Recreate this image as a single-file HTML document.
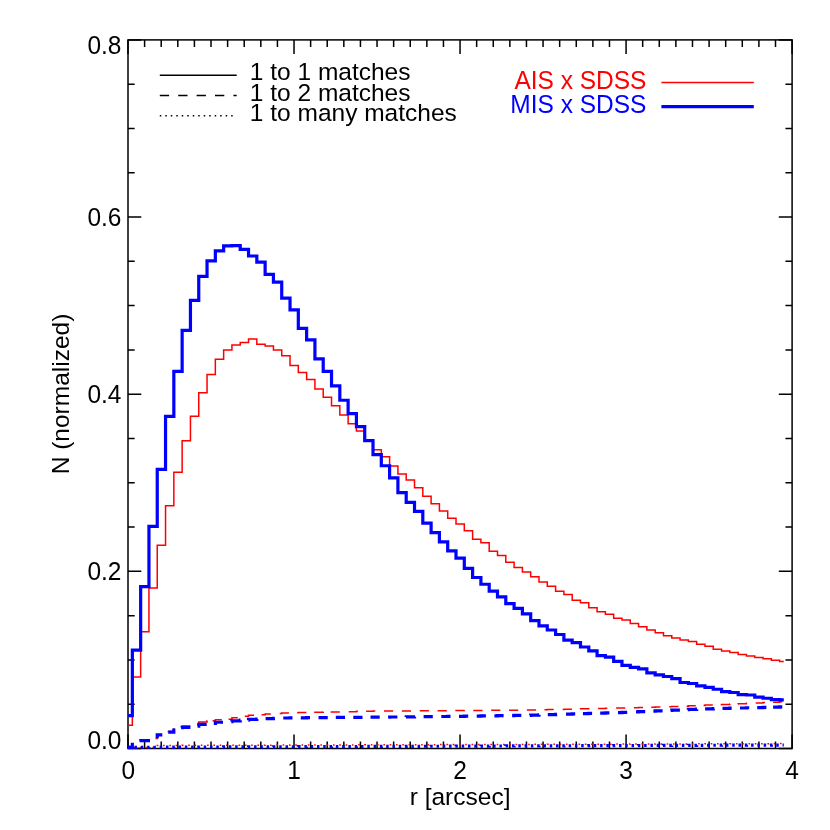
<!DOCTYPE html>
<html><head><meta charset="utf-8"><title>Chart</title>
<style>html,body{margin:0;padding:0;background:#fff;}body{width:830px;height:830px;position:relative;overflow:hidden;font-family:"Liberation Sans",sans-serif;}</style></head>
<body>
<svg width="830" height="830" viewBox="0 0 830 830" style="position:absolute;left:0;top:0;will-change:transform">
<rect x="0" y="0" width="830" height="830" fill="#fff"/>
<g stroke="#000" stroke-width="1.50" fill="none" stroke-linecap="butt" stroke-linejoin="miter">
<rect x="128.00" y="39.90" width="664.10" height="708.60"/>
<path d="M128.00 748.50 v-14.10 M128.00 39.90 v14.10 M144.60 748.50 v-7.05 M144.60 39.90 v7.05 M161.21 748.50 v-7.05 M161.21 39.90 v7.05 M177.81 748.50 v-7.05 M177.81 39.90 v7.05 M194.41 748.50 v-7.05 M194.41 39.90 v7.05 M211.01 748.50 v-7.05 M211.01 39.90 v7.05 M227.62 748.50 v-7.05 M227.62 39.90 v7.05 M244.22 748.50 v-7.05 M244.22 39.90 v7.05 M260.82 748.50 v-7.05 M260.82 39.90 v7.05 M277.42 748.50 v-7.05 M277.42 39.90 v7.05 M294.02 748.50 v-14.10 M294.02 39.90 v14.10 M310.63 748.50 v-7.05 M310.63 39.90 v7.05 M327.23 748.50 v-7.05 M327.23 39.90 v7.05 M343.83 748.50 v-7.05 M343.83 39.90 v7.05 M360.44 748.50 v-7.05 M360.44 39.90 v7.05 M377.04 748.50 v-7.05 M377.04 39.90 v7.05 M393.64 748.50 v-7.05 M393.64 39.90 v7.05 M410.24 748.50 v-7.05 M410.24 39.90 v7.05 M426.85 748.50 v-7.05 M426.85 39.90 v7.05 M443.45 748.50 v-7.05 M443.45 39.90 v7.05 M460.05 748.50 v-14.10 M460.05 39.90 v14.10 M476.65 748.50 v-7.05 M476.65 39.90 v7.05 M493.26 748.50 v-7.05 M493.26 39.90 v7.05 M509.86 748.50 v-7.05 M509.86 39.90 v7.05 M526.46 748.50 v-7.05 M526.46 39.90 v7.05 M543.06 748.50 v-7.05 M543.06 39.90 v7.05 M559.66 748.50 v-7.05 M559.66 39.90 v7.05 M576.27 748.50 v-7.05 M576.27 39.90 v7.05 M592.87 748.50 v-7.05 M592.87 39.90 v7.05 M609.47 748.50 v-7.05 M609.47 39.90 v7.05 M626.08 748.50 v-14.10 M626.08 39.90 v14.10 M642.68 748.50 v-7.05 M642.68 39.90 v7.05 M659.28 748.50 v-7.05 M659.28 39.90 v7.05 M675.88 748.50 v-7.05 M675.88 39.90 v7.05 M692.49 748.50 v-7.05 M692.49 39.90 v7.05 M709.09 748.50 v-7.05 M709.09 39.90 v7.05 M725.69 748.50 v-7.05 M725.69 39.90 v7.05 M742.29 748.50 v-7.05 M742.29 39.90 v7.05 M758.90 748.50 v-7.05 M758.90 39.90 v7.05 M775.50 748.50 v-7.05 M775.50 39.90 v7.05 M792.10 748.50 v-14.10 M792.10 39.90 v14.10 M128.00 748.50 h13.30 M792.10 748.50 h-13.30 M128.00 704.21 h6.65 M792.10 704.21 h-6.65 M128.00 659.92 h6.65 M792.10 659.92 h-6.65 M128.00 615.64 h6.65 M792.10 615.64 h-6.65 M128.00 571.35 h13.30 M792.10 571.35 h-13.30 M128.00 527.06 h6.65 M792.10 527.06 h-6.65 M128.00 482.77 h6.65 M792.10 482.77 h-6.65 M128.00 438.49 h6.65 M792.10 438.49 h-6.65 M128.00 394.20 h13.30 M792.10 394.20 h-13.30 M128.00 349.91 h6.65 M792.10 349.91 h-6.65 M128.00 305.62 h6.65 M792.10 305.62 h-6.65 M128.00 261.34 h6.65 M792.10 261.34 h-6.65 M128.00 217.05 h13.30 M792.10 217.05 h-13.30 M128.00 172.76 h6.65 M792.10 172.76 h-6.65 M128.00 128.48 h6.65 M792.10 128.48 h-6.65 M128.00 84.19 h6.65 M792.10 84.19 h-6.65 M128.00 39.90 h13.30 M792.10 39.90 h-13.30"/>
</g>
<g stroke="#000" stroke-width="1.5" fill="none">
<path d="M159.8 75.2 H236.7"/>
<path d="M159.8 95.6 H236.7" stroke-dasharray="9.3 9.1"/>
<path d="M159.8 115.8 H236.2" stroke-dasharray="1.5 3.99"/>
</g>
<path d="M661.4 82.6 H753.8" stroke="#f00" stroke-width="1.5"/>
<path d="M661.4 106.7 H753.8" stroke="#00f" stroke-width="3.2"/>
<g fill="none" stroke-linejoin="miter" stroke-linecap="butt">
<path d="M128.20 725.27 H132.35 V677.02 H140.65 V631.68 H148.95 V587.95 H157.25 V545.18 H165.54 V505.78 H173.84 V472.14 H182.14 V440.71 H190.44 V416.18 H198.74 V392.81 H207.04 V374.57 H215.34 V359.17 H223.64 V349.96 H231.93 V345.09 H240.23 V342.43 H248.53 V338.89 H256.83 V344.29 H265.13 V346.06 H273.43 V349.96 H281.73 V355.71 H290.03 V365.45 H298.32 V372.45 H306.62 V379.62 H314.92 V389.00 H323.22 V397.15 H331.52 V405.83 H339.82 V415.03 H348.12 V423.71 H356.42 V431.06 H364.71 V440.97 H373.01 V449.74 H381.31 V456.82 H389.61 V466.03 H397.91 V474.00 H406.21 V480.11 H414.51 V487.81 H422.81 V496.13 H431.10 V503.66 H439.40 V511.01 H447.70 V518.36 H456.00 V524.11 H464.30 V530.84 H472.60 V539.34 H480.90 V542.79 H489.20 V551.29 H497.49 V555.54 H505.79 V562.18 H514.09 V567.58 H522.39 V571.92 H530.69 V576.79 H538.99 V582.02 H547.29 V586.26 H555.59 V591.13 H563.88 V594.59 H572.18 V600.17 H580.48 V602.64 H588.78 V607.87 H597.08 V611.68 H605.38 V614.24 H613.68 V618.14 H621.98 V620.00 H630.27 V623.54 H638.57 V626.64 H646.87 V629.91 H655.17 V632.84 H663.47 V635.67 H671.77 V637.97 H680.07 V640.10 H688.37 V641.42 H696.66 V644.35 H704.96 V646.29 H713.26 V649.22 H721.56 V651.07 H729.86 V652.58 H738.16 V654.44 H746.46 V655.94 H754.76 V657.45 H763.05 V658.78 H771.35 V660.28 H779.65 V661.52 H783.80" stroke="#f00" stroke-width="1.5"/>
<path d="M128.2 747.76 H132.35 V743.5 M139.1 739.7 H147.8 M155.6 738.4 H157.25 V735.2 H161.5 M167.6 731.4 H173.8 V728.2 M181.20 728.01 H182.14 V725.89 H190.40 M198.10 723.41 H198.74 V722.08 H207.04 V720.75 H207.30 M212.60 720.75 H215.34 V719.87 H221.80 M228.60 719.16 H231.93 V717.73 H237.80 M244.80 716.30 H248.53 V715.21 H254.00 M261.60 714.64 H265.13 V714.08 H270.80 M279.70 713.51 H281.73 V713.01 H288.90 M297.20 712.79 H298.32 V712.56 H306.40 M314.20 712.34 H314.92 V712.14 H323.22 V712.01 H323.40 M330.60 712.01 H331.52 V711.89 H339.80 M348.70 711.63 H356.42 V711.19 H357.90 M366.10 711.14 H373.01 V711.09 H375.30 M383.97 711.04 H389.61 V710.98 H393.17 M401.83 710.93 H406.21 V710.88 H411.03 M419.70 710.83 H422.81 V710.78 H428.90 M437.57 710.73 H439.40 V710.67 H446.77 M455.43 710.62 H456.00 V710.57 H464.30 V710.51 H464.63 M473.30 710.45 H480.90 V710.38 H482.50 M491.17 710.32 H497.49 V710.26 H500.37 M509.03 710.19 H514.09 V710.13 H518.23 M526.90 710.07 H530.69 V709.93 H536.10 M544.50 709.75 H547.29 V709.56 H553.70 M562.70 709.38 H563.88 V709.20 H571.90 M580.30 709.01 H580.48 V708.83 H588.78 V708.65 H589.50 M598.10 708.46 H605.38 V708.28 H607.30 M616.10 708.10 H621.98 V707.92 H625.30 M633.90 707.66 H638.57 V707.41 H643.10 M651.20 707.16 H655.17 V706.90 H660.40 M669.20 706.65 H671.77 V706.40 H678.40 M686.60 706.14 H688.37 V705.86 H695.80 M703.60 705.49 H704.96 V705.12 H712.80 M720.70 704.75 H721.56 V704.38 H729.86 V704.02 H729.90 M737.90 704.02 H738.16 V703.65 H746.46 V703.28 H747.10 M755.70 702.91 H763.05 V702.54 H764.90 M773.10 702.17 H779.65 V701.81 H782.30" stroke="#f00" stroke-width="1.5"/>
<path d="M128.20 747.40 H132.35 V747.40 H140.65 V747.40 H148.95 V747.40 H157.25 V745.45 H165.54 V745.42 H173.84 V745.40 H182.14 V745.37 H190.44 V745.35 H198.74 V745.32 H207.04 V745.30 H215.34 V745.28 H223.64 V745.25 H231.93 V745.23 H240.23 V745.20 H248.53 V745.18 H256.83 V745.15 H265.13 V745.13 H273.43 V745.11 H281.73 V745.08 H290.03 V745.06 H298.32 V745.03 H306.62 V745.01 H314.92 V744.98 H323.22 V744.96 H331.52 V744.94 H339.82 V744.91 H348.12 V744.89 H356.42 V744.86 H364.71 V744.84 H373.01 V744.81 H381.31 V744.79 H389.61 V744.76 H397.91 V744.74 H406.21 V744.72 H414.51 V744.69 H422.81 V744.67 H431.10 V744.64 H439.40 V744.62 H447.70 V744.59 H456.00 V744.57 H464.30 V744.55 H472.60 V744.52 H480.90 V744.50 H489.20 V744.47 H497.49 V744.45 H505.79 V744.42 H514.09 V744.40 H522.39 V744.38 H530.69 V744.35 H538.99 V744.33 H547.29 V744.30 H555.59 V744.28 H563.88 V744.25 H572.18 V744.23 H580.48 V744.20 H588.78 V744.18 H597.08 V744.16 H605.38 V744.13 H613.68 V744.11 H621.98 V744.08 H630.27 V744.06 H638.57 V744.03 H646.87 V744.01 H655.17 V743.99 H663.47 V743.96 H671.77 V743.94 H680.07 V743.91 H688.37 V743.89 H696.66 V743.86 H704.96 V743.84 H713.26 V743.82 H721.56 V743.79 H729.86 V743.77 H738.16 V743.74 H746.46 V743.72 H754.76 V743.69 H763.05 V743.67 H771.35 V743.64 H779.65 V743.62 H783.80" stroke="#f00" stroke-width="1.5" stroke-dasharray="1.6 4.714" stroke-dashoffset="1.1"/>
<path d="M128.20 715.71 H132.35 V650.19 H140.65 V586.62 H148.95 V526.33 H157.25 V469.31 H165.54 V416.36 H173.84 V371.30 H182.14 V330.30 H190.44 V300.38 H198.74 V276.47 H207.04 V260.89 H215.34 V250.88 H223.64 V245.84 H231.93 V245.57 H240.23 V249.29 H248.53 V256.02 H256.83 V262.22 H265.13 V274.35 H273.43 V282.05 H281.73 V298.08 H290.03 V309.85 H298.32 V328.36 H306.62 V339.95 H314.92 V358.81 H323.22 V371.30 H331.52 V385.82 H339.82 V400.25 H348.12 V413.71 H356.42 V426.63 H364.71 V440.71 H373.01 V454.61 H381.31 V465.77 H389.61 V477.81 H397.91 V492.68 H406.21 V502.33 H414.51 V511.36 H422.81 V523.14 H431.10 V532.61 H439.40 V541.82 H447.70 V550.85 H456.00 V558.20 H464.30 V568.38 H472.60 V577.50 H480.90 V584.23 H489.20 V591.13 H497.49 V596.89 H505.79 V603.62 H514.09 V608.40 H522.39 V613.80 H530.69 V620.62 H538.99 V625.84 H547.29 V630.00 H555.59 V634.52 H563.88 V640.18 H572.18 V642.57 H580.48 V647.00 H588.78 V650.81 H597.08 V655.68 H605.38 V657.18 H613.68 V661.43 H621.98 V665.33 H630.27 V667.37 H638.57 V668.78 H646.87 V672.94 H655.17 V674.80 H663.47 V676.48 H671.77 V678.70 H680.07 V682.51 H688.37 V683.48 H696.66 V685.78 H704.96 V687.29 H713.26 V689.23 H721.56 V691.62 H729.86 V692.51 H738.16 V694.55 H746.46 V694.99 H754.76 V697.03 H763.05 V698.26 H771.35 V699.68 H779.65 V699.86 H783.80" stroke="#00f" stroke-width="3.2"/>
<path d="M128.2 747.40 H132.35 V742.75 M139.5 740.7 H150.0 M157.25 738.3 V734.8 H162.3 M168.2 732.2 H173.8 V728.6 M181.20 727.57 H182.14 V727.31 H190.40 M197.50 726.07 H198.74 V724.47 H206.70 M213.80 723.41 H215.34 V722.26 H223.00 M231.30 721.55 H231.93 V720.84 H240.23 V720.13 H240.50 M248.40 720.13 H248.53 V719.43 H256.83 V719.07 H257.60 M265.60 718.72 H273.43 V718.36 H274.80 M283.30 718.01 H290.03 V717.91 H292.50 M300.80 717.81 H306.62 V717.71 H310.00 M318.55 717.61 H323.22 V717.53 H327.75 M335.80 717.47 H339.82 V717.42 H345.00 M353.30 717.36 H356.42 V717.30 H362.50 M370.50 717.22 H373.01 V717.14 H379.70 M388.20 717.06 H389.61 V716.98 H397.40 M405.90 716.89 H406.21 V716.81 H414.51 V716.73 H415.10 M423.60 716.65 H431.10 V716.57 H432.80 M441.30 716.49 H447.70 V716.41 H450.50 M459.00 716.33 H464.30 V716.20 H468.20 M476.70 716.07 H480.90 V715.95 H485.90 M494.40 715.82 H497.49 V715.69 H503.60 M512.10 715.57 H514.09 V715.44 H521.30 M529.80 715.31 H530.69 V715.11 H538.99 V714.86 H539.00 M547.80 714.61 H555.59 V714.36 H557.00 M566.00 714.11 H572.18 V713.85 H575.20 M582.90 713.60 H588.78 V713.35 H592.10 M600.20 713.10 H605.38 V712.85 H609.40 M618.00 712.59 H621.98 V712.34 H627.20 M636.00 711.96 H638.57 V711.58 H645.20 M653.40 711.20 H655.17 V710.82 H662.60 M670.70 710.45 H671.77 V710.07 H679.90 M687.80 709.69 H688.37 V709.35 H696.66 V709.13 H697.00 M705.10 708.90 H713.26 V708.67 H714.30 M722.50 708.44 H729.86 V708.22 H731.70 M740.00 707.99 H746.46 V707.76 H749.20 M757.20 707.53 H763.05 V707.31 H766.40 M773.10 707.08 H779.65 V706.85 H782.30" stroke="#00f" stroke-width="3.2"/>
<path d="M128.20 747.31 H132.35 V747.29 H140.65 V747.26 H148.95 V747.23 H157.25 V747.20 H165.54 V747.17 H173.84 V747.14 H182.14 V747.11 H190.44 V747.08 H198.74 V747.05 H207.04 V747.02 H215.34 V746.99 H223.64 V746.96 H231.93 V746.93 H240.23 V746.91 H248.53 V746.88 H256.83 V746.85 H265.13 V746.82 H273.43 V746.79 H281.73 V746.76 H290.03 V746.73 H298.32 V746.70 H306.62 V746.67 H314.92 V746.64 H323.22 V746.61 H331.52 V746.58 H339.82 V746.55 H348.12 V746.53 H356.42 V746.50 H364.71 V746.47 H373.01 V746.44 H381.31 V746.41 H389.61 V746.38 H397.91 V746.35 H406.21 V746.32 H414.51 V746.29 H422.81 V746.26 H431.10 V746.23 H439.40 V746.20 H447.70 V746.18 H456.00 V746.15 H464.30 V746.12 H472.60 V746.09 H480.90 V746.06 H489.20 V746.03 H497.49 V746.00 H505.79 V745.97 H514.09 V745.94 H522.39 V745.91 H530.69 V745.88 H538.99 V745.85 H547.29 V745.82 H555.59 V745.80 H563.88 V745.77 H572.18 V745.74 H580.48 V745.71 H588.78 V745.68 H597.08 V745.65 H605.38 V745.62 H613.68 V745.59 H621.98 V745.56 H630.27 V745.53 H638.57 V745.50 H646.87 V745.47 H655.17 V745.44 H663.47 V745.42 H671.77 V745.39 H680.07 V745.36 H688.37 V745.33 H696.66 V745.30 H704.96 V745.27 H713.26 V745.24 H721.56 V745.21 H729.86 V745.18 H738.16 V745.15 H746.46 V745.12 H754.76 V745.09 H763.05 V745.06 H771.35 V745.04 H779.65 V745.01 H783.80" stroke="#00f" stroke-width="3.2" stroke-dasharray="2.5 3.814"/>
</g>
<g font-family="Liberation Sans, sans-serif" font-size="24.5px" fill="#000">
<text transform="translate(121.5 53.8) scale(1 1.045)" text-anchor="end">0.8</text>
<text transform="translate(121.5 225.5) scale(1 1.045)" text-anchor="end">0.6</text>
<text transform="translate(121.5 402.6) scale(1 1.045)" text-anchor="end">0.4</text>
<text transform="translate(121.5 579.7) scale(1 1.045)" text-anchor="end">0.2</text>
<text transform="translate(121.5 749.1) scale(1 1.045)" text-anchor="end">0.0</text>
<text transform="translate(128.20 779) scale(1 1.045)" text-anchor="middle">0</text>
<text transform="translate(294.18 779) scale(1 1.045)" text-anchor="middle">1</text>
<text transform="translate(460.15 779) scale(1 1.045)" text-anchor="middle">2</text>
<text transform="translate(626.12 779) scale(1 1.045)" text-anchor="middle">3</text>
<text transform="translate(792.10 779) scale(1 1.045)" text-anchor="middle">4</text>
<text x="460.1" y="805" text-anchor="middle">r [arcsec]</text>
<text transform="translate(69 394) rotate(-90)" text-anchor="middle">N (normalized)</text>
<text x="249.8" y="80.3">1 to 1 matches</text>
<text x="249.8" y="100.8">1 to 2 matches</text>
<text x="249.8" y="121.3">1 to many matches</text>
<text transform="translate(646.4 88.6) scale(1 1.04)" text-anchor="end" fill="#f00">AIS x SDSS</text>
<text transform="translate(646.4 112.9) scale(1 1.04)" text-anchor="end" fill="#00f">MIS x SDSS</text>
</g>
</svg>
</body></html>
